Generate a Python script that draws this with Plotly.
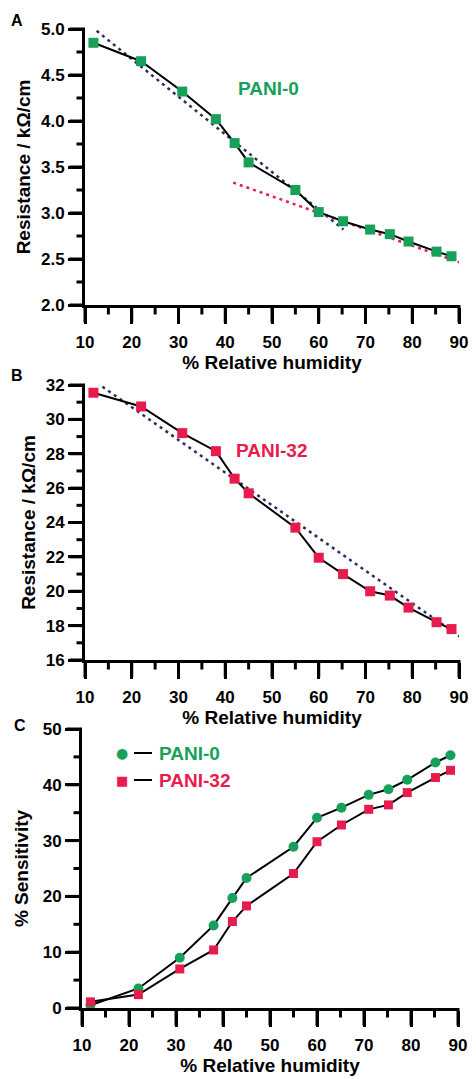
import plotly.graph_objects as go

# ---------------- data ----------------
rh = [11.8, 22, 30.8, 38, 42, 45, 55, 60, 65.2, 71, 75.2, 79.2, 85.2, 88.4]

res_pani0 = [4.85, 4.65, 4.32, 4.02, 3.76, 3.55, 3.25, 3.01, 2.91, 2.82, 2.77, 2.69, 2.58, 2.53]
res_pani32 = [31.55, 30.75, 29.2, 28.15, 26.55, 25.7, 23.7, 21.95, 21.0, 20.0, 19.75, 19.05, 18.2, 17.8]

sens_pani0 = [0.5, 3.5, 9.0, 14.8, 19.7, 23.3, 28.9, 34.1, 35.9, 38.2, 39.2, 40.9, 44.0, 45.3]
sens_pani32 = [1.1, 2.4, 7.0, 10.4, 15.5, 18.3, 24.1, 29.8, 32.8, 35.6, 36.4, 38.6, 41.3, 42.6]

# fitted (dotted) lines, endpoints
fitA1_x = [12.5, 65.3]
fitA1_y = [4.98, 2.82]
fitA2_x = [41.7, 92.0]
fitA2_y = [3.33, 2.43]
fitB_x = [12.5, 90.2]
fitB_y = [32.13, 17.36]

# tick values
x_ticks = [10, 20, 30, 40, 50, 60, 70, 80, 90]
x_minor = [15, 25, 35, 45, 55, 65, 75, 85]
yA_ticks = [2.0, 2.5, 3.0, 3.5, 4.0, 4.5, 5.0]
yA_minor = [2.25, 2.75, 3.25, 3.75, 4.25, 4.75]
yB_ticks = [16, 18, 20, 22, 24, 26, 28, 30, 32]
yB_minor = [17, 19, 21, 23, 25, 27, 29, 31]
yC_ticks = [0, 10, 20, 30, 40, 50]
yC_minor = [5, 15, 25, 35, 45]

# ---------------- styling ----------------
GREEN = "#16a05a"
RED = "#e81c4c"
NAVY = "#2c2d5e"
FONT = "Liberation Sans, Arial, sans-serif"
W, H = 476, 1079
ML, MR, MT, MB = 80, 15, 20, 60
PW, PH = W - ML - MR, H - MT - MB

# panel boxes in pixels: (left, right, top, bottom, yrange)
PANELS = {
    "A": (85, 459, 29, 305, [2, 5]),
    "B": (85, 459, 385, 660, [16, 32]),
    "C": (82, 458, 729, 1008, [0, 50]),
}
XR = [10, 90]


def px(x):
    return (x - ML) / PW


def py(y):
    return 1 - (y - MT) / PH


def yd(top, bottom):
    return [py(bottom), py(top)]


def xd(left, right):
    return [px(left), px(right)]


tickfont = dict(family=FONT, size=17, color="black", weight="bold")
titlefont = dict(family=FONT, size=19, color="black", weight="bold")


def xaxis(dom, anchor):
    return dict(
        domain=dom, anchor=anchor, range=XR, tickvals=x_ticks, automargin=False,
        showline=True, linewidth=3, linecolor="#000000", showgrid=False, zeroline=False,
        ticks="outside", ticklen=16, tickwidth=3, tickcolor="#000000",
        tickfont=tickfont, ticklabelstandoff=4,
        title=dict(text="% Relative humidity", font=titlefont, standoff=4),
    )


def yaxis(dom, anchor, rng, vals, title, standoff, fmt=None):
    d = dict(
        domain=dom, anchor=anchor, range=rng, tickvals=vals, automargin=False,
        showline=True, linewidth=3, linecolor="#000000", showgrid=False, zeroline=False,
        ticks="outside", ticklen=14, tickwidth=3, tickcolor="#000000",
        tickfont=tickfont,
        title=dict(text=title, font=titlefont, standoff=standoff),
    )
    if fmt:
        d["tickformat"] = fmt
    return d


fig = go.Figure()

# ---- Panel A ----
fig.add_trace(go.Scatter(x=fitA1_x, y=fitA1_y, mode="lines", xaxis="x", yaxis="y",
                         line=dict(color=NAVY, width=2.5, dash="3px,4px"), showlegend=False))
fig.add_trace(go.Scatter(x=fitA2_x, y=fitA2_y, mode="lines", xaxis="x", yaxis="y",
                         line=dict(color=RED, width=2.5, dash="3px,4px"), showlegend=False))
fig.add_trace(go.Scatter(x=rh, y=res_pani0, mode="lines+markers", xaxis="x", yaxis="y",
                         line=dict(color="black", width=2),
                         marker=dict(symbol="square", size=10, color=GREEN),
                         cliponaxis=False, showlegend=False))

# ---- Panel B ----
fig.add_trace(go.Scatter(x=fitB_x, y=fitB_y, mode="lines", xaxis="x2", yaxis="y2",
                         line=dict(color=NAVY, width=2.5, dash="3px,4px"), showlegend=False))
fig.add_trace(go.Scatter(x=rh, y=res_pani32, mode="lines+markers", xaxis="x2", yaxis="y2",
                         line=dict(color="black", width=2),
                         marker=dict(symbol="square", size=10, color=RED),
                         cliponaxis=False, showlegend=False))

# ---- Panel C ----
fig.add_trace(go.Scatter(x=rh, y=sens_pani0, mode="lines+markers", xaxis="x3", yaxis="y3",
                         line=dict(color="black", width=2),
                         marker=dict(symbol="circle", size=10, color=GREEN),
                         cliponaxis=False, showlegend=False))
fig.add_trace(go.Scatter(x=rh, y=sens_pani32, mode="lines+markers", xaxis="x3", yaxis="y3",
                         line=dict(color="black", width=2),
                         marker=dict(symbol="square", size=9, color=RED),
                         cliponaxis=False, showlegend=False))

ann = []
# panel letters
for txt, x, y in [("A", 17, 21), ("B", 17, 375), ("C", 20, 725)]:
    ann.append(dict(text=txt, x=px(x), y=py(y), xref="paper", yref="paper", showarrow=False,
                    xanchor="center", yanchor="middle",
                    font=dict(family=FONT, size=16, color="black", weight="bold")))
# in-plot labels
ann.append(dict(text="PANI-0", x=px(268), y=py(88), xref="paper", yref="paper", showarrow=False,
                xanchor="center", yanchor="middle",
                font=dict(family=FONT, size=19, color=GREEN, weight="bold")))
ann.append(dict(text="PANI-32", x=px(271), y=py(451), xref="paper", yref="paper", showarrow=False,
                xanchor="center", yanchor="middle",
                font=dict(family=FONT, size=19, color=RED, weight="bold")))
# legend of panel C
ann.append(dict(text="●", x=px(122), y=py(753), xref="paper", yref="paper", showarrow=False,
                xanchor="center", yanchor="middle",
                font=dict(family="DejaVu Sans", size=14, color=GREEN)))
ann.append(dict(text="■", x=px(122), y=py(780), xref="paper", yref="paper", showarrow=False,
                xanchor="center", yanchor="middle",
                font=dict(family="DejaVu Sans", size=13, color=RED)))
ann.append(dict(text="PANI-0", x=px(157), y=py(753), xref="paper", yref="paper", showarrow=False,
                xanchor="left", yanchor="middle",
                font=dict(family=FONT, size=19, color=GREEN, weight="bold")))
ann.append(dict(text="PANI-32", x=px(157), y=py(780), xref="paper", yref="paper", showarrow=False,
                xanchor="left", yanchor="middle",
                font=dict(family=FONT, size=19, color=RED, weight="bold")))

shapes = []
for yy in (753, 780):
    shapes.append(dict(type="line", xref="paper", yref="paper", x0=px(134), x1=px(152),
                       y0=py(yy), y1=py(yy), line=dict(color="black", width=2)))

# tick marks as paper-referenced lines, positioned by mapping tick values through each axis range
TICK = dict(color="black", width=3)
Y_TICKS = {"A": (yA_ticks, yA_minor), "B": (yB_ticks, yB_minor), "C": (yC_ticks, yC_minor)}
for key, (left, right, top, bottom, yr) in PANELS.items():
    def xpix(v, left=left, right=right):
        return left + (v - XR[0]) / (XR[1] - XR[0]) * (right - left)

    def ypix(v, top=top, bottom=bottom, yr=yr):
        return bottom - (v - yr[0]) / (yr[1] - yr[0]) * (bottom - top)

    for vals, ln in ((x_ticks, 17.5), (x_minor, 9.5)):
        for v in vals:
            xp = xpix(v)
            shapes.append(dict(type="line", xref="paper", yref="paper", x0=px(xp), x1=px(xp),
                               y0=py(bottom), y1=py(bottom + ln), line=TICK, layer="above"))
    majors, minors = Y_TICKS[key]
    for vals, ln in ((majors, 15.5), (minors, 8.5)):
        for v in vals:
            yp = ypix(v)
            shapes.append(dict(type="line", xref="paper", yref="paper", x0=px(left), x1=px(left - ln),
                               y0=py(yp), y1=py(yp), line=TICK, layer="above"))

fig.update_layout(
    template="none",
    width=W, height=H,
    margin=dict(l=ML, r=MR, t=MT, b=MB, autoexpand=False),
    showlegend=False,
    xaxis=xaxis(xd(85, 459), "y"),
    yaxis=yaxis(yd(29, 305), "x", [2, 5], yA_ticks, "Resistance / kΩ/cm", 6, ".1f"),
    xaxis2=xaxis(xd(85, 459), "y2"),
    yaxis2=yaxis(yd(385, 660), "x2", [16, 32], yB_ticks, "Resistance / kΩ/cm", 6),
    xaxis3=xaxis(xd(82, 458), "y3"),
    yaxis3=yaxis(yd(729, 1008), "x3", [0, 50], yC_ticks, "% Sensitivity", 10),
    annotations=ann,
    shapes=shapes,
)

fig.write_html("out.html")
